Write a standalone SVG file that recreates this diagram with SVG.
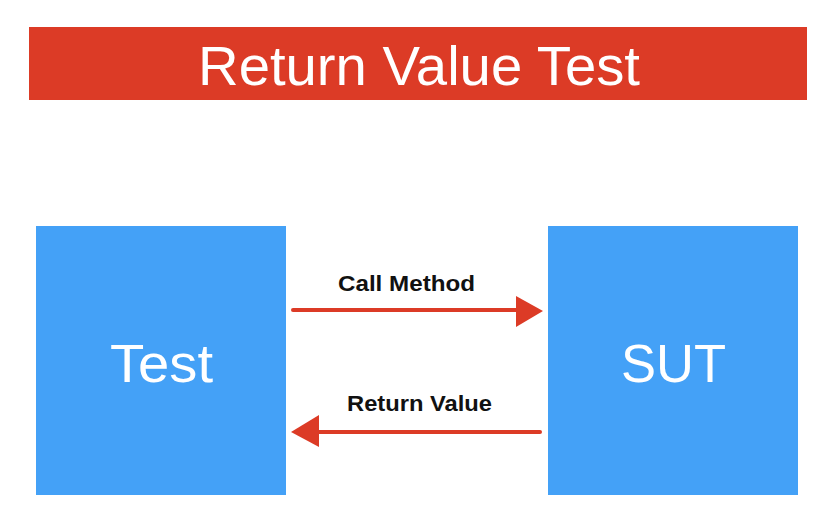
<svg xmlns="http://www.w3.org/2000/svg" width="839" height="522" viewBox="0 0 839 522">
<style>
.box{fill:#44a1f7}
.big{font-family:"Helvetica Neue","Liberation Sans",Arial,sans-serif;fill:#fff;text-anchor:middle}
.lbl{font-family:"Liberation Sans",Arial,sans-serif;font-weight:bold;font-size:22px;fill:#111;text-anchor:middle}
.shaft{stroke:#dc3b26;stroke-width:4;fill:none;stroke-linecap:round}
.head{fill:#dc3b26}
</style>
<rect width="839" height="522" fill="#fff"/>
<g id="title">
<rect x="29" y="27" width="778" height="73" fill="#dc3b26"/>
<text class="big" x="419" y="85" font-size="56" textLength="442" lengthAdjust="spacingAndGlyphs">Return Value Test</text>
</g>
<g id="test">
<rect class="box" x="36" y="226" width="250" height="269"/>
<text class="big" x="161.5" y="382" font-size="54" textLength="103" lengthAdjust="spacingAndGlyphs">Test</text>
</g>
<g id="sut">
<rect class="box" x="548" y="226" width="250" height="269"/>
<text class="big" x="673.5" y="382" font-size="54" textLength="105" lengthAdjust="spacingAndGlyphs">SUT</text>
</g>
<g id="connectors">
<path class="shaft" d="M293 310 L518 310"/>
<polygon class="head" points="516,296 543,311 516,327"/>
<text class="lbl" x="406.5" y="291" textLength="137" lengthAdjust="spacingAndGlyphs">Call Method</text>
<path class="shaft" d="M540 432 L316 432"/>
<polygon class="head" points="319,415 291,432 319,447"/>
<text class="lbl" x="419.5" y="411" textLength="145" lengthAdjust="spacingAndGlyphs">Return Value</text>
</g>
</svg>
